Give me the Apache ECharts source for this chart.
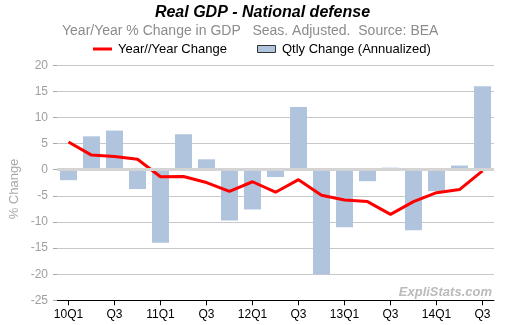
<!DOCTYPE html>
<html>
<head>
<meta charset="utf-8">
<script src="https://cdn.jsdelivr.net/npm/echarts@6/dist/echarts.min.js"></script>
<style>
  html, body { margin: 0; padding: 0; background: #fff; }
  #chart { width: 525px; height: 325px; }
</style>
</head>
<body>
<div id="chart"></div>
<script>
// Quarters covered, 2010 Q1 through 2014 Q3
const quarters = ['10Q1','10Q2','10Q3','10Q4','11Q1','11Q2','11Q3','11Q4',
                  '12Q1','12Q2','12Q3','12Q4','13Q1','13Q2','13Q3','13Q4',
                  '14Q1','14Q2','14Q3'];

// Quarterly change, annualized (%)
const qtlyChange = [-2.0, 6.4, 7.5, -3.7, -14.0, 6.8, 2.0, -9.7,
                    -7.6, -1.4, 12.0, -20.0, -11.0, -2.2, 0.4, -11.6,
                    -4.1, 0.8, 16.0];

// Year-over-year change (%)
const yoyChange = [5.3, 2.8, 2.55, 2.0, -1.35, -1.3, -2.45, -4.15,
                   -2.3, -4.3, -1.9, -4.9, -5.8, -6.1, -8.55, -6.1,
                   -4.4, -3.8, -0.2];

const yMin = -25, yMax = 20, yStep = 5;

const FONT = '"Liberation Sans", Arial, sans-serif';

const chart = echarts.init(document.getElementById('chart'), null, { renderer: 'canvas' });

chart.setOption({
  animation: false,
  backgroundColor: '#ffffff',
  grid: { left: 57, right: 31, top: 65.3, bottom: 24.7, containLabel: false },
  xAxis: {
    type: 'category',
    data: quarters,
    boundaryGap: true,
    axisLine: { show: true, onZero: false, lineStyle: { color: '#000', width: 1 } },
    axisTick: { show: true, alignWithLabel: true, interval: 1, length: 5, lineStyle: { color: '#000' } },
    axisLabel: {
      interval: 1,
      margin: 8,
      color: '#000',
      fontFamily: FONT,
      fontSize: 12,
      formatter: v => v.endsWith('Q1') ? v : v.slice(2)
    },
    splitLine: { show: false }
  },
  yAxis: {
    type: 'value',
    min: yMin,
    max: yMax,
    interval: yStep,
    axisLine: { show: false },
    axisTick: { show: true, length: 4, lineStyle: { color: '#a8a8a8' } },
    axisLabel: { margin: 9, color: '#a0a0a0', fontFamily: FONT, fontSize: 12 },
    splitLine: { show: true, lineStyle: { color: '#c8c8c8', width: 1 } }
  },
  series: [
    {
      // zero reference line, drawn beneath the bars
      name: 'zero',
      type: 'line',
      data: [],
      z: 1,
      silent: true,
      markLine: {
        silent: true,
        symbol: 'none',
        label: { show: false },
        lineStyle: { color: '#d4d4d4', width: 3, type: 'solid' },
        data: [{ yAxis: 0 }]
      }
    },
    {
      name: 'Qtly Change (Annualized)',
      type: 'bar',
      data: qtlyChange,
      barWidth: 17,
      z: 2,
      itemStyle: { color: '#b0c4de' }
    },
    {
      name: 'Year//Year Change',
      type: 'line',
      data: yoyChange,
      z: 3,
      symbol: 'none',
      lineStyle: { color: '#ff0000', width: 3 }
    }
  ],
  graphic: [
    {
      type: 'text', x: 262.5, y: 12.5, z: 10,
      style: {
        text: 'Real GDP - National defense',
        font: 'italic bold 16px ' + FONT,
        fill: '#000', textAlign: 'center', textVerticalAlign: 'middle'
      }
    },
    {
      type: 'text', x: 62, y: 31, z: 10,
      style: {
        text: 'Year/Year % Change in GDP   Seas. Adjusted.  Source: BEA',
        font: '14px ' + FONT,
        fill: '#8c8c8c', textAlign: 'left', textVerticalAlign: 'middle'
      }
    },
    // legend: line swatch
    {
      type: 'rect', z: 10,
      shape: { x: 93, y: 47.5, width: 19, height: 3 },
      style: { fill: '#ff0000' }
    },
    {
      type: 'text', x: 118, y: 49, z: 10,
      style: {
        text: 'Year//Year Change',
        font: '13px ' + FONT,
        fill: '#000', textAlign: 'left', textVerticalAlign: 'middle'
      }
    },
    // legend: bar swatch
    {
      type: 'rect', z: 10,
      shape: { x: 257.5, y: 45.5, width: 18, height: 7 },
      style: { fill: '#b0c4de', stroke: '#333', lineWidth: 1 }
    },
    {
      type: 'text', x: 282, y: 49, z: 10,
      style: {
        text: 'Qtly Change (Annualized)',
        font: '13px ' + FONT,
        fill: '#000', textAlign: 'left', textVerticalAlign: 'middle'
      }
    },
    // y-axis title
    {
      type: 'text', x: 14, y: 189, z: 10, rotation: Math.PI / 2,
      style: {
        text: '% Change',
        font: '13px ' + FONT,
        fill: '#a8a8a8', textAlign: 'center', textVerticalAlign: 'middle'
      }
    },
    // site mark
    {
      type: 'text', x: 492, y: 292, z: 10,
      style: {
        text: 'ExpliStats.com',
        font: 'italic bold 13px ' + FONT,
        fill: '#bbbbbb', textAlign: 'right', textVerticalAlign: 'middle'
      }
    }
  ]
});
</script>
</body>
</html>
